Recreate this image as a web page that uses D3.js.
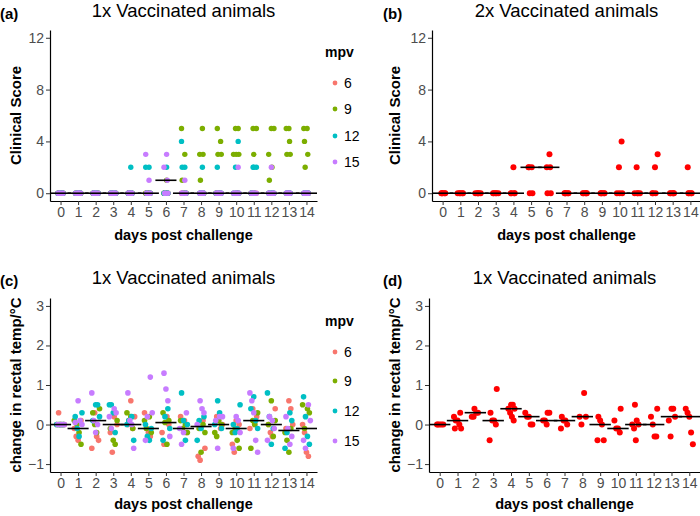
<!DOCTYPE html>
<html><head><meta charset="utf-8">
<script src="https://cdn.jsdelivr.net/npm/d3@7"></script>
<style>
body{margin:0;background:#fff}
svg{display:block}
text{font-family:"Liberation Sans",Arial,Helvetica,sans-serif}
</style>
</head><body>
<svg id="chart" width="700" height="516"></svg>
<script>
// ---------------- DATA ----------------
const days = [0,1,2,3,4,5,6,7,8,9,10,11,12,13,14];
const mpvLevels = ["6","9","12","15"];
const mpvColors = ["#F8766D","#7CAE00","#00BFC4","#C77CFF"];
const scoreTicks = [0,4,8,12];
const tempTicks = [-1,0,1,2,3];

// (a) clinical score, 1x vaccinated: one array per animal (days 0..14)
const scoreA_mpv6 = [
  [0,0,0,0,0,0,0,0,0,0,0,0,0,0,0],
  [0,0,0,0,0,0,0,0,0,0,0,0,0,0,0],
  [0,0,0,0,0,0,0,0,0,0,0,0,0,0,0],
  [0,0,0,0,0,0,0,0,0,0,0,0,0,0,0],
  [0,0,0,0,0,0,0,0,0,0,0,0,0,0,0],
  [0,0,0,0,0,0,0,0,0,0,0,0,0,0,0]
];
const scoreA_mpv9 = [
  [0,0,0,0,0,0,1,5,5,5,5,5,5,5,5],
  [0,0,0,0,0,0,0,3,3,4,5,5,5,5,5],
  [0,0,0,0,0,0,0,1,3,3,3,3,3,4,4],
  [0,0,0,0,0,0,0,0,1,3,3,0,2,3,3],
  [0,0,0,0,0,0,0,0,0,0,3,0,1,3,2],
  [0,0,0,0,0,0,0,0,0,0,0,0,0,0,0]
];
const scoreA_mpv12 = [
  [0,0,0,0,2,2,2,4,2,2,4,2,0,0,0],
  [0,0,0,0,0,2,0,2,0,0,2,2,0,0,0],
  [0,0,0,0,0,0,0,2,0,0,0,2,0,0,0],
  [0,0,0,0,0,0,0,0,0,0,0,0,0,0,0],
  [0,0,0,0,0,0,0,0,0,0,0,0,0,0,0],
  [0,0,0,0,0,0,0,0,0,0,0,0,0,0,0]
];
const scoreA_mpv15 = [
  [0,0,0,0,0,3,3,0,0,0,2,0,0,0,0],
  [0,0,0,0,0,1,2,1,0,0,0,0,2,0,0],
  [0,0,0,0,0,0,1,0,0,0,0,0,0,0,0],
  [0,0,0,0,0,0,0,0,0,0,0,0,0,0,0],
  [0,0,0,0,0,0,0,0,0,0,0,0,0,0,0],
  [0,0,0,0,0,0,0,0,0,0,0,0,0,0,0]
];
const medianA = [0,0,0,0,0,0,1,0,0,0,0,0,0,0,0];

// (b) clinical score, 2x vaccinated
const scoreB = [
  [0,0,0,0,2,2,3,0,0,0,4,2,3,0,2],
  [0,0,0,0,0,2,2,0,0,0,2,0,2,0,0],
  [0,0,0,0,0,2,2,0,0,0,0,0,0,0,0],
  [0,0,0,0,0,0,0,0,0,0,0,0,0,0,0],
  [0,0,0,0,0,0,0,0,0,0,0,0,0,0,0]
];
const medianB = [0,0,0,0,0,2,2,0,0,0,0,0,0,0,0];

// (c) change in rectal temp, 1x vaccinated: per day list of values per mpv group
const tempC_mpv6 = [
  [0.3,0,0,0],[0.1,-0.1,-0.3,-0.4],[0.3,-0.3,-0.4,-0.6],[0.0,-0.2,-0.7,0.2],
  [0.6,-0.1,0.2,0.0],[0.3,-0.1,-0.2,-0.3],[0.2,0.0,-0.2,-0.5],[0.2,-0.1,0.1,-0.2],
  [0.1,-0.6,-0.8,-0.9],[0.2,0.1,-0.1,0.0],[0.0,-0.5,-0.7,0.1],[0.4,0.0,0.2,-0.1],
  [0.4,0.0,-0.2,-0.3],[0.6,0.4,0.0,-0.1],[0.0,-0.2,-0.7,-0.8]
];
const tempC_mpv9 = [
  [0,0,0,0],[0.0,-0.2,-0.5,0.1],[0.4,0.3,0.0,-0.2],[-0.4,-0.5,0.1,-0.1],
  [0.3,0.1,0.2,-0.1],[0.2,-0.2,0.1,-0.1],[0.3,0.05,-0.5,0.1],[0.0,-0.2,0.1,-0.1],
  [-0.1,-0.7,0.0,-0.2],[0.0,-0.2,-0.3,0.1],[-0.1,-0.4,-0.6,-0.2],[0.3,-0.6,0.1,0.0],
  [0.6,-0.3,0.1,0.0],[-0.2,-0.4,-0.7,-0.1],[0.4,0.3,0.5,-0.1]
];
const tempC_mpv12 = [
  [0,0,0,0],[0.3,0.2,-0.1,-0.3],[0.5,0.5,0.2,0.1],[0.5,0.5,0.3,-0.2],
  [0.2,-0.4,0.0,0.1],[0.0,-0.3,-0.4,-0.1],[0.4,-0.1,-0.4,0.2],[0.8,0.1,-0.4,0.0],
  [0.2,-0.4,0.1,-0.1],[0.6,0.3,-0.1,0.0],[0.5,0.0,-0.2,-0.1],[0.7,0.1,-0.1,0.4],
  [0.8,0.2,-0.5,-0.1],[0.3,0.1,-0.6,-0.2],[0.7,0.2,-0.3,-0.5]
];
const tempC_mpv15 = [
  [0,0,0,0],[0.6,0.1,0.0,0.05],[0.8,0.1,-0.2,0.0],[0.4,0.3,0.2,-0.1],
  [0.8,0.1,0.0,-0.6],[1.2,0.3,-0.4,0.2],[1.3,0.9,0.6,-0.3],[0.3,-0.1,-0.5,-0.2],
  [0.6,0.4,0.3,0.0],[0.2,0.1,-0.6,0.2],[0.2,0.1,-0.2,-0.6],[0.8,0.6,0.3,-0.4,-0.7],
  [0.1,-0.1,-0.4,0.2],[0.2,-0.1,-0.5,-0.3],[0.5,0.1,-0.4,-0.6]
];
const medianC = [0,-0.1,0.1,0,0,-0.1,0.05,-0.1,-0.05,0,-0.1,0.1,0,-0.15,-0.1];

// (d) change in rectal temp
const tempD = [
  [0,0,0,0,0],
  [0.3,0.2,0.1,0.1,0.0,-0.1,-0.1],
  [0.4,0.3,0.3,0.2,0.2],
  [0.9,0.3,0.1,0.1,0.0,-0.4],
  [0.5,0.5,0.4,0.4,0.3,0.2,0.1],
  [0.3,0.2,0.2,0.0,0.0],
  [0.3,0.3,0.1,0.1,0.0],
  [0.2,0.1,0.1,0.0,-0.1],
  [0.8,0.2,0.2,0.0],
  [0.2,0.1,0.0,-0.4,-0.4],
  [0.4,0.1,-0.1,-0.1,-0.2],
  [0.5,0.1,0.0,0.0,-0.1,-0.4],
  [0.4,0.2,0.0,-0.3,-0.3],
  [0.4,0.4,0.2,0.1,-0.3],
  [0.4,0.3,0.2,-0.2,-0.5]
];
const medianD = [0,0.1,0.3,0.1,0.4,0.2,0.1,0.1,0.2,0,-0.1,0,0,0.2,0.2];

// ---------------- HELPERS ----------------
const svg = d3.select("#chart");
// deterministic horizontal spread (layout only)
function spread(i, w){ return (((i*5+2)%9)-4)/4*w; }

function animalPoints(groups){
  const pts=[];
  groups.forEach(g=>{
    g.animals.forEach((a,ai)=>{
      a.forEach((v,di)=>pts.push({day:days[di], val:v, color:g.color, k:ai+di}));
    });
  });
  return pts;
}
function dayListPoints(groups){
  const pts=[];
  groups.forEach((g,gi)=>{
    g.lists.forEach((list,di)=>{
      list.forEach((v,vi)=>pts.push({day:days[di], val:v, color:g.color, k:vi*4+gi+di}));
    });
  });
  return pts;
}

function panel(o){
  const x = d3.scaleLinear().domain([-0.6,14.6]).range(o.xr);
  const y = d3.scaleLinear().domain(o.yd).range(o.yr);
  const g = svg.append("g");

  g.append("g").selectAll("circle").data(o.points).join("circle")
    .attr("cx", d=>x(d.day + spread(d.k, o.jit)))
    .attr("cy", d=>y(d.val))
    .attr("r", o.r)
    .attr("fill", d=>d.color);

  g.append("g").selectAll("line").data(o.medians).join("line")
    .attr("x1",(d,i)=>x(days[i]-0.6)).attr("x2",(d,i)=>x(days[i]+0.6))
    .attr("y1",d=>y(d)).attr("y2",d=>y(d))
    .attr("stroke","#000").attr("stroke-width",1.6);

  const ya = g.append("g").attr("transform",`translate(${o.xr[0]},0)`)
    .call(d3.axisLeft(y).tickValues(o.yTicks).tickSize(4).tickSizeOuter(0).tickPadding(2).tickFormat(d3.format("d")));
  const xa = g.append("g").attr("transform",`translate(0,${o.yr[0]})`)
    .call(d3.axisBottom(x).tickValues(days).tickSize(4).tickSizeOuter(0).tickPadding(2).tickFormat(d3.format("d")));
  [ya,xa].forEach(a=>{
    a.select(".domain").attr("stroke","#000").attr("stroke-width",1.2);
    a.selectAll(".tick line").attr("stroke","#333").attr("stroke-width",1);
    a.selectAll(".tick text").attr("fill","#4D4D4D").style("font-size","14px");
  });

  const cx = (o.xr[0]+o.xr[1])/2, cy=(o.yr[0]+o.yr[1])/2;
  g.append("text").attr("x",cx).attr("y",o.titleY).attr("text-anchor","middle")
    .style("font-size","18.5px").attr("fill","#000").text(o.title);
  g.append("text").attr("x",o.labX).attr("y",o.titleY+2).style("font-size","15px")
    .style("font-weight","bold").text(o.label);
  g.append("text").attr("transform",`translate(${o.ytX},${cy}) rotate(-90)`)
    .attr("text-anchor","middle").style("font-size","15px").style("font-weight","bold").text(o.yTitle);
  g.append("text").attr("x",cx).attr("y",o.xtY).attr("text-anchor","middle")
    .style("font-size","14.5px").style("font-weight","bold").text("days post challenge");

  if(o.legend){
    const L=o.legend;
    g.append("text").attr("x",L.x).attr("y",L.titleY).style("font-size","14px")
      .style("font-weight","bold").text("mpv");
    mpvLevels.forEach((m,i)=>{
      g.append("circle").attr("cx",L.x+10).attr("cy",L.ys[i]).attr("r",2.4).attr("fill",mpvColors[i]);
      g.append("text").attr("x",L.x+19).attr("y",L.ys[i]).attr("dy","0.35em")
        .style("font-size","14px").attr("fill","#000").text(m);
    });
  }
}

const red = "#FF0000";

panel({label:"(a)", labX:0, title:"1x Vaccinated animals", titleY:17,
  xr:[50,317], yd:[-0.6,12.6], yr:[201,30], yTicks:scoreTicks,
  yTitle:"Clinical Score", ytX:21, xtY:240, r:2.7, jit:0.15,
  points: animalPoints([
    {animals:scoreA_mpv6,color:mpvColors[0]},
    {animals:scoreA_mpv9,color:mpvColors[1]},
    {animals:scoreA_mpv12,color:mpvColors[2]},
    {animals:scoreA_mpv15,color:mpvColors[3]}]),
  medians: medianA,
  legend:{x:325, titleY:57, ys:[83,109,136,162]}
});

panel({label:"(b)", labX:383, title:"2x Vaccinated animals", titleY:17,
  xr:[432,701], yd:[-0.6,12.6], yr:[201,30], yTicks:scoreTicks,
  yTitle:"Clinical Score", ytX:400, xtY:240, r:3, jit:0.15,
  points: animalPoints([{animals:scoreB,color:red}]),
  medians: medianB
});

panel({label:"(c)", labX:0, title:"1x Vaccinated animals", titleY:284,
  xr:[50,317], yd:[-1.2,3.2], yr:[472,298], yTicks:tempTicks,
  yTitle:"change in rectal temp/°C", ytX:21, xtY:509, r:2.8, jit:0.22,
  points: dayListPoints([
    {lists:tempC_mpv6,color:mpvColors[0]},
    {lists:tempC_mpv9,color:mpvColors[1]},
    {lists:tempC_mpv12,color:mpvColors[2]},
    {lists:tempC_mpv15,color:mpvColors[3]}]),
  medians: medianC,
  legend:{x:325, titleY:326, ys:[352,381,411,441]}
});

panel({label:"(d)", labX:383, title:"1x Vaccinated animals", titleY:284,
  xr:[429,700], yd:[-1.2,3.2], yr:[472,298], yTicks:tempTicks,
  yTitle:"change in rectal temp/°C", ytX:400, xtY:509, r:3, jit:0.2,
  points: dayListPoints([{lists:tempD,color:red}]),
  medians: medianD
});
</script>
</body></html>
